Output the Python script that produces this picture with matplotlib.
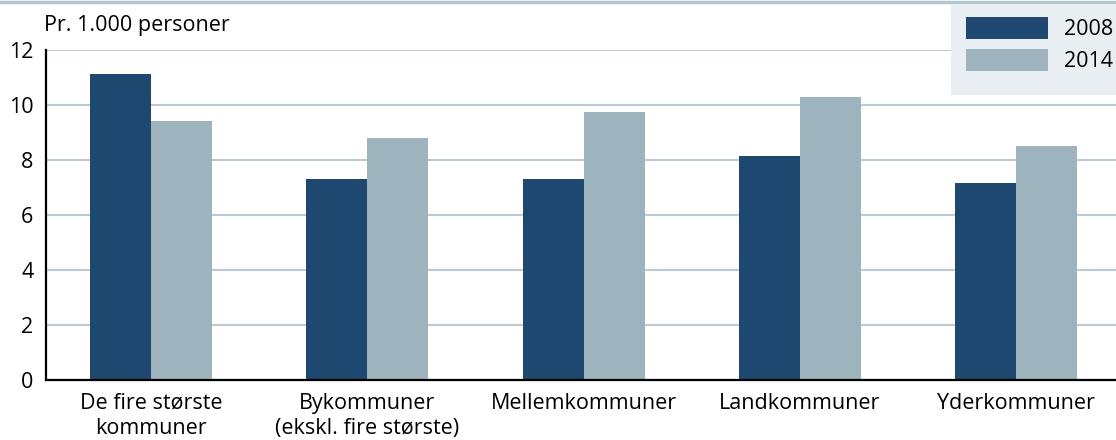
import matplotlib
matplotlib.use("Agg")
import matplotlib.pyplot as plt
from matplotlib.patches import Rectangle
import numpy as np

categories = ["De fire største\nkommuner", "Bykommuner\n(ekskl. fire største)",
              "Mellemkommuner", "Landkommuner", "Yderkommuner"]
series_names = ["2008", "2014"]
values_2008 = [11.13, 7.31, 7.31, 8.15, 7.16]
values_2014 = [9.42, 8.80, 9.75, 10.29, 8.51]
yticks = [0, 2, 4, 6, 8, 10, 12]
ylabel = "Pr. 1.000 personer"

dark = "#1f4870"
light = "#9db3be"
grid_c = "#bccbd3"

plt.rcParams['font.family'] = ['Open Sans', 'DejaVu Sans']
fs = 15.5

fig = plt.figure(figsize=(11.16, 4.40), dpi=100)
ax = fig.add_axes([46/1116, 60/440, 1070/1116, 330/440])

x = np.arange(len(categories))
w = 0.282
ax.bar(x - w/2, values_2008, w, color=dark, label=series_names[0], zorder=3)
ax.bar(x + w/2, values_2014, w, color=light, label=series_names[1], zorder=3)

ax.set_xlim(-0.486, 4.461)
ax.set_ylim(0, 12)
ax.set_yticks(yticks)
ax.set_yticklabels([str(v) for v in yticks])
ax.set_xticks(x)
ax.set_xticklabels(categories, linespacing=1.3)
ax.tick_params(axis='both', length=0, labelsize=fs)
ax.tick_params(axis='y', pad=9)
ax.tick_params(axis='x', pad=9)
ax.yaxis.grid(True, color=grid_c, linewidth=1.5, zorder=0)
ax.set_axisbelow(True)
for s in ['top', 'right']:
    ax.spines[s].set_visible(False)
for s in ['left', 'bottom']:
    ax.spines[s].set_linewidth(1.6)
    ax.spines[s].set_color('black')
    ax.spines[s].set_zorder(4)

fig.text(44/1116, 1 - 26/440, ylabel, fontsize=fs, ha='left', va='center')

# top rule
fig.add_artist(plt.Line2D([0, 1], [1 - 2.5/440, 1 - 2.5/440], color="#b6c6ce",
                          linewidth=2.5, transform=fig.transFigure))

# legend background box
fig.add_artist(Rectangle((951/1116, 1 - 95/440), 200/1116, 91/440,
                         transform=fig.transFigure, facecolor="#e8eef1",
                         edgecolor='none', zorder=5))
leg = fig.legend(loc='upper left', bbox_to_anchor=(966/1116, 1 - 17/440),
                 frameon=False, fontsize=fs, handlelength=3.82, handleheight=1.2,
                 handletextpad=0.75, labelspacing=0.4, borderpad=0, borderaxespad=0)
leg.set_zorder(6)

fig.savefig("out.png", dpi=100)
